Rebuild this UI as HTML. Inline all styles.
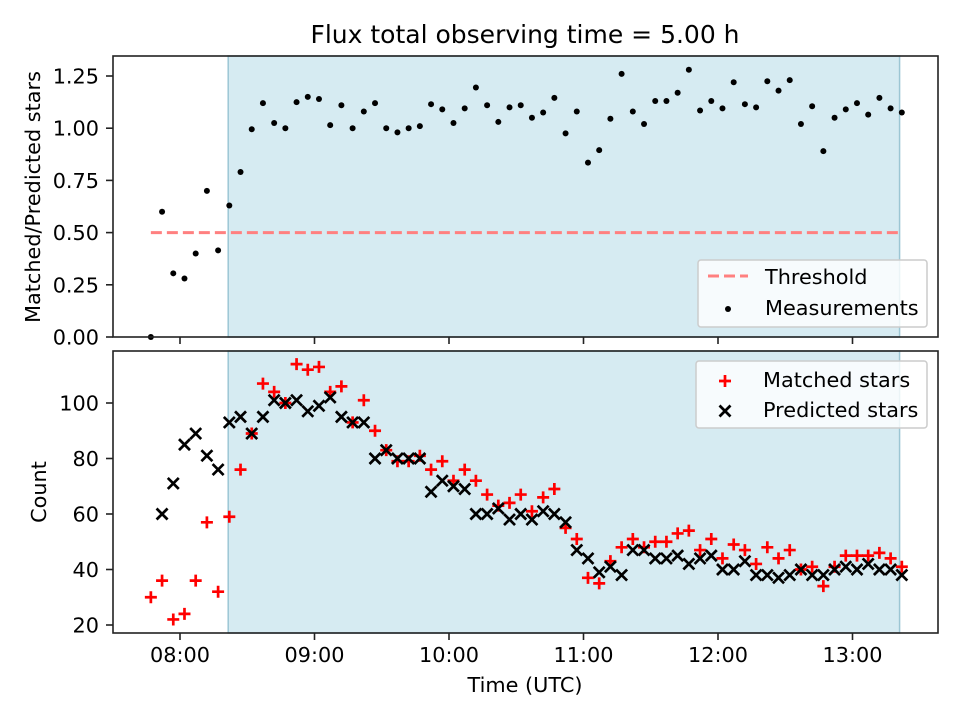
<!DOCTYPE html>
<html><head><meta charset="utf-8"><style>
body{margin:0;background:#fff;}
svg{display:block;font-family:"DejaVu Sans","Liberation Sans",sans-serif;}
</style></head><body>
<svg id="chart" width="960" height="720" viewBox="0 0 960 720"></svg>
<script>
// minutes since midnight (UTC)
const timesMin = [467,472,477,482,487,492,497,502,507,512,517,522,527,532,537,542,547,552,557,562,567,572,577,582,587,592,597,602,607,612,617,622,627,632,637,642,647,652,657,662,667,672,677,682,687,692,697,702,707,712,717,722,727,732,737,742,747,752,757,762,767,772,777,782,787,792,797,802];
const ratio = [0.00,0.60,0.305,0.28,0.40,0.70,0.415,0.63,0.79,0.995,1.12,1.025,1.00,1.125,1.15,1.14,1.015,1.11,1.00,1.08,1.12,1.00,0.98,1.00,1.01,1.115,1.09,1.025,1.095,1.195,1.11,1.03,1.10,1.11,1.05,1.075,1.145,0.975,1.08,0.835,0.895,1.045,1.26,1.08,1.02,1.13,1.13,1.17,1.28,1.085,1.13,1.095,1.22,1.115,1.10,1.225,1.18,1.23,1.02,1.105,0.89,1.05,1.09,1.12,1.065,1.145,1.095,1.075];
const matched = [30,36,22,24,36,57,32,59,76,89,107,104,100,114,112,113,104,106,93,101,90,83,79,79,81,76,79,72,76,72,67,63,64,67,61,66,69,55,51,37,35,43,48,51,48,50,50,53,54,47,51,44,49,47,42,48,44,47,40,41,34,41,45,45,45,46,44,41];
const predicted = [null,60,71,85,89,81,76,93,95,89,95,101,100,101,97,99,102,95,93,93,80,83,80,80,80,68,72,70,69,60,60,62,58,60,58,61,60,57,47,44,39,41,38,47,47,44,44,45,42,44,45,40,40,43,38,38,37,38,40,38,38,40,41,40,42,40,40,38];
const threshold = [0.5];
const spanMin = [501.5, 801];
const xTickMin = [480,540,600,660,720,780];
const xTickLabels = ["08:00","09:00","10:00","11:00","12:00","13:00"];
const topTicks = [0,0.25,0.5,0.75,1.0,1.25];
const topTickLabels = ["0.00","0.25","0.50","0.75","1.00","1.25"];
const botTicks = [20,40,60,80,100];
const botTickLabels = ["20","40","60","80","100"];

const NS="http://www.w3.org/2000/svg";
const svg=document.getElementById('chart');
function mk(tag,attrs,parent){const e=document.createElementNS(NS,tag);for(const k in attrs)e.setAttribute(k,attrs[k]);(parent||svg).appendChild(e);return e;}
const L=113,R=938;
const FS=20.8;
const xs=m=>180+(m-480)/60*134.5;
const T={top:56,bot:337}, B={top:351,bot:633};
const yTop=v=>337-v*208.8;
const yBot=v=>625-(v-20)*2.775;

function panel(P,name){
  const g=mk('g',{});
  
  
  const sp=mk('rect',{x:xs(spanMin[0]),y:P.top,width:xs(spanMin[1])-xs(spanMin[0]),height:P.bot-P.top,fill:'#add8e6','fill-opacity':0.5,stroke:'#9cc6d4','stroke-width':1.5},g);
  
  
  return g;
}
function frame(P,g){
  const f=mk('rect',{x:L,y:P.top,width:R-L,height:P.bot-P.top,fill:'none',stroke:'#222','stroke-width':1.6},g);
  
  
}
function xticks(P,g,labels){
  xTickMin.forEach((m,i)=>{
    const x=xs(m);
    const t=mk('line',{x1:x,x2:x,y1:P.bot,y2:P.bot+7,stroke:'#222','stroke-width':1.6},g);
    
    
    if(labels){
      const tx=mk('text',{x:x,y:P.bot+29,'font-size':FS,'text-anchor':'middle',fill:'#000'},g);
      tx.textContent=xTickLabels[i];
      
      
    }
  });
}
function yticks(P,g,ticks,labels,fy){
  ticks.forEach((v,i)=>{
    const y=fy(v);
    const t=mk('line',{x1:L-7,x2:L,y1:y,y2:y,stroke:'#222','stroke-width':1.6},g);
    
    
    const tx=mk('text',{x:L-14,y:y+7.5,'font-size':FS,'text-anchor':'end',fill:'#000'},g);
    tx.textContent=labels[i];
    
    
  });
}

// top panel
const gT=panel(T,'ratio-panel');
const th=mk('line',{x1:xs(timesMin[0]),x2:xs(timesMin[timesMin.length-1]),y1:yTop(threshold[0]),y2:yTop(threshold[0]),stroke:'#ff8080','stroke-width':3,'stroke-dasharray':'11,5'},gT);


ratio.forEach((v,i)=>{
  const c=mk('circle',{cx:xs(timesMin[i]),cy:yTop(v),r:3,fill:'#000'},gT);
  
  
});
frame(T,gT);xticks(T,gT,false);yticks(T,gT,topTicks,topTickLabels,yTop);

// bottom panel
const gB=panel(B,'count-panel');
matched.forEach((v,i)=>{
  if(v==null)return;
  const x=xs(timesMin[i]),y=yBot(v);
  const p=mk('path',{d:`M${x-6},${y}H${x+6}M${x},${y-6}V${y+6}`,stroke:'#ff0000','stroke-width':2.7,fill:'none'},gB);
  
  
});
predicted.forEach((v,i)=>{
  if(v==null)return;
  const x=xs(timesMin[i]),y=yBot(v);
  const p=mk('path',{d:`M${x-5.5},${y-5.5}L${x+5.5},${y+5.5}M${x-5.5},${y+5.5}L${x+5.5},${y-5.5}`,stroke:'#000','stroke-width':2.7,fill:'none'},gB);
  
  
});
frame(B,gB);xticks(B,gB,true);yticks(B,gB,botTicks,botTickLabels,yBot);
</script>
<svg width="960" height="720" style="position:absolute;left:0;top:0" font-family="DejaVu Sans, Liberation Sans, sans-serif">
  <text x="525" y="43" font-size="25" text-anchor="middle">Flux total observing time = 5.00 h</text>
  <text transform="translate(40,197) rotate(-90)" font-size="20.8" text-anchor="middle">Matched/Predicted stars</text>
  <text transform="translate(46,492) rotate(-90)" font-size="20.8" text-anchor="middle">Count</text>
  <text x="525" y="692" font-size="20.8" text-anchor="middle">Time (UTC)</text>
  <g>
    <rect x="698" y="260" width="229" height="67" rx="3" fill="#fff" fill-opacity="0.8" stroke="#ccc" stroke-width="1.5"/>
    <line x1="708" y1="276" x2="748" y2="276" stroke="#ff8080" stroke-width="3" stroke-dasharray="11,5"/>
    <text x="765" y="284" font-size="20.8">Threshold</text>
    <circle cx="728" cy="309" r="3" fill="#000"/>
    <text x="765" y="315" font-size="20.8">Measurements</text>
  </g>
  <g>
    <rect x="696" y="361" width="231" height="67" rx="3" fill="#fff" fill-opacity="0.8" stroke="#ccc" stroke-width="1.5"/>
    <path d="M719,381H731M725,375V387" stroke="#f00" stroke-width="2.7"/>
    <text x="763" y="387" font-size="20.8">Matched stars</text>
    <path d="M719.5,405.5L730.5,416.5M719.5,416.5L730.5,405.5" stroke="#000" stroke-width="2.7"/>
    <text x="763" y="417" font-size="20.8">Predicted stars</text>
  </g>
</svg>
</body></html>
